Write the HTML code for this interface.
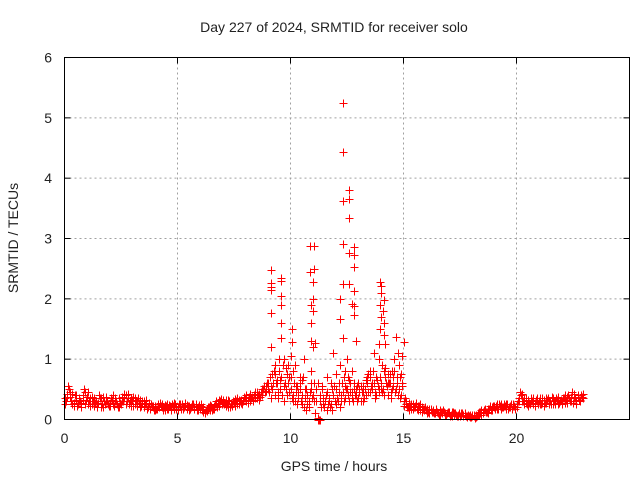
<!DOCTYPE html>
<html><head><meta charset="utf-8"><style>
body{margin:0;background:#fff}
svg text{font-family:"Liberation Sans",sans-serif;font-size:14px;fill:#222}
</style></head><body>
<svg id="chart" width="640" height="480" xmlns="http://www.w3.org/2000/svg">
<rect width="640" height="480" fill="#fff"/>
<text x="334" y="32" text-anchor="middle">Day 227 of 2024, SRMTID for receiver solo</text>
<text x="334" y="471" text-anchor="middle">GPS time / hours</text>
<text x="18" y="238" text-anchor="middle" transform="rotate(-90 18 238)">SRMTID / TECUs</text>
<g id="grid"></g>
<g id="marks"></g>
<rect x="64.5" y="57.5" width="565" height="362" fill="none" stroke="#000"/>
<g id="ticks"></g>
</svg>
<script>
const xTicks=[0,5,10,15,20];
const yTicks=[0,1,2,3,4,5,6];
const baseA=[0.35,0.42,0.5,0.3,0.28,0.33,0.25,0.3,0.4,0.45,
0.38,0.3,0.25,0.22,0.3,0.28,0.35,0.2,0.25,0.3,
0.28,0.32,0.22,0.3,0.35,0.25,0.3,0.4,0.35,0.3,
0.32,0.25,0.3,0.28,0.22,0.3,0.26,0.2,0.18,0.2,
0.22,0.18,0.2,0.25,0.2,0.22,0.18,0.2,0.23,0.25,
0.2,0.22,0.25,0.2,0.18,0.22,0.2,0.25,0.22,0.2,
0.18,0.15,0.12,0.18,0.2,0.22,0.18,0.25,0.28,0.3,
0.32,0.28,0.25,0.3,0.22,0.28,0.3,0.25,0.32,0.3,
0.35,0.32,0.3,0.38,0.4,0.35,0.42,0.45,0.5,0.55,
0.6,0.7,0.5,0.4,0.6,0.8,0.7,0.3,0.5,0.9,
0.5,0.4,0.3,0.25,0.6,0.4,0.2,0.15,0.3,0.5,
0.4,0.1,0.02,0.3,0.5,0.2,0.15,0.3,0.25,0.4,
0.5,0.3,0.2,0.6,0.8,0.5,0.3,0.45,0.6,0.4,
0.35,0.3,0.45,0.5,0.6,0.7,0.5,0.6,0.4,0.5,
0.6,0.5,0.7,0.4,0.6,0.5,0.8,0.6,0.5,0.4,
0.3,0.25,0.2,0.22,0.25,0.2,0.18,0.22,0.2,0.15,
0.15,0.12,0.18,0.15,0.1,0.12,0.15,0.1,0.12,0.08,
0.1,0.08,0.12,0.1,0.08,0.06,0.1,0.08,0.05,0.06,
0.04,0.05,0.08,0.1,0.12,0.1,0.15,0.12,0.18,0.2,
0.2,0.22,0.18,0.25,0.2,0.22,0.25,0.2,0.18,0.22,
0.25,0.35,0.4,0.3,0.28,0.32,0.25,0.3,0.28,0.3,
0.3,0.25,0.32,0.28,0.35,0.3,0.25,0.3,0.32,0.28,
0.3,0.35,0.32,0.4,0.3,0.28,0.35,0.4,0.32,0.38];
const baseB=[0.3,0.55,0.38,0.25,0.4,0.22,0.35,0.28,0.5,0.32,
0.25,0.35,0.3,0.28,0.2,0.35,0.25,0.3,0.38,0.22,
0.35,0.25,0.3,0.2,0.28,0.38,0.42,0.3,0.25,0.35,
0.22,0.3,0.35,0.2,0.28,0.25,0.18,0.25,0.22,0.15,
0.18,0.25,0.22,0.16,0.24,0.18,0.22,0.25,0.18,0.2,
0.25,0.18,0.2,0.24,0.22,0.18,0.25,0.2,0.16,0.24,
0.22,0.12,0.15,0.2,0.16,0.18,0.25,0.2,0.32,0.25,
0.25,0.32,0.2,0.25,0.3,0.22,0.35,0.3,0.25,0.35,
0.3,0.38,0.35,0.32,0.45,0.4,0.38,0.5,0.45,0.6,
0.45,0.55,0.8,0.6,0.35,0.5,0.9,0.6,0.4,0.7,
0.35,0.6,0.45,0.35,0.3,0.7,0.35,0.25,0.45,0.35,
0.6,0.3,0.0,0.2,0.35,0.4,0.25,0.2,0.5,0.3,
0.35,0.45,0.4,0.3,0.5,0.7,0.45,0.3,0.4,0.55,
0.5,0.45,0.35,0.65,0.45,0.55,0.8,0.45,0.55,0.7,
0.45,0.8,0.55,0.6,0.45,0.7,0.5,0.4,0.7,0.55,
0.35,0.2,0.28,0.18,0.2,0.28,0.22,0.15,0.18,0.2,
0.1,0.18,0.12,0.1,0.15,0.08,0.12,0.15,0.08,0.12,
0.06,0.12,0.08,0.05,0.1,0.08,0.05,0.06,0.08,0.04,
0.08,0.03,0.06,0.12,0.08,0.15,0.12,0.18,0.15,0.22,
0.18,0.25,0.22,0.2,0.25,0.18,0.2,0.25,0.22,0.2,
0.3,0.45,0.3,0.35,0.25,0.28,0.35,0.25,0.32,0.25,
0.25,0.35,0.28,0.32,0.25,0.38,0.3,0.35,0.25,0.32,
0.35,0.28,0.38,0.3,0.45,0.35,0.3,0.32,0.4,0.35];
const baseC=[0.25,0.38,0.45,0.42,0.22,0.4,0.3,0.2,0.32,0.25,
0.45,0.22,0.38,0.35,0.25,0.4,0.2,0.38,0.3,0.25,
0.22,0.4,0.35,0.25,0.2,0.3,0.35,0.25,0.42,0.22,
0.38,0.35,0.22,0.32,0.3,0.2,0.32,0.28,0.25,0.22,
0.15,0.22,0.28,0.2,0.16,0.25,0.24,0.16,0.28,0.18,
0.16,0.26,0.18,0.28,0.24,0.15,0.22,0.18,0.26,0.16,
0.25,0.2,0.1,0.14,0.24,0.15,0.22,0.3,0.22,0.34,
0.28,0.22,0.32,0.2,0.26,0.34,0.25,0.32,0.28,0.38,
0.4,0.28,0.42,0.3,0.35,0.45,0.32,0.4,0.55,0.48,
0.5,0.35,0.6,0.75,0.45,0.65,0.4,0.55,0.75,0.45,
0.7,0.3,0.55,0.45,0.5,0.25,0.5,0.4,0.2,0.6,
0.3,0.5,0.0,0.4,0.25,0.3,0.45,0.35,0.15,0.55,
0.25,0.6,0.3,0.45,0.35,0.4,0.6,0.35,0.5,0.3,
0.45,0.55,0.3,0.4,0.75,0.45,0.6,0.35,0.65,0.45,
0.5,0.4,0.6,0.75,0.35,0.55,0.45,0.7,0.35,0.6,
0.22,0.3,0.15,0.25,0.18,0.22,0.15,0.25,0.12,0.18,
0.18,0.1,0.15,0.12,0.18,0.1,0.08,0.12,0.1,0.1,
0.12,0.05,0.1,0.08,0.06,0.1,0.08,0.1,0.04,0.08,
0.06,0.08,0.04,0.08,0.15,0.12,0.18,0.1,0.22,0.15,
0.22,0.18,0.25,0.18,0.22,0.25,0.18,0.22,0.25,0.18,
0.2,0.3,0.42,0.25,0.35,0.22,0.3,0.35,0.22,0.35,
0.35,0.28,0.22,0.35,0.3,0.25,0.35,0.25,0.38,0.3,
0.25,0.4,0.28,0.35,0.38,0.42,0.25,0.38,0.3,0.42];
const spikeT=[9.14,9.15,9.15,9.15,9.15,9.14,9.57,9.6,9.58,9.57,9.6,9.6,10.05,10.05,10.05,
10.86,11.05,10.86,11.05,11.0,11.0,10.9,11.0,10.9,10.92,11.1,
12.33,12.33,12.6,12.6,12.33,12.6,12.33,12.57,12.8,12.8,12.8,12.33,12.6,12.8,12.7,12.8,12.2,12.2,12.33,12.8,12.9,
13.95,14.0,14.0,14.15,13.95,14.1,14.0,14.15,13.95,14.15,13.9,14.2,
14.69,15.03,14.75,14.95,14.8,
9.3,9.5,9.8,10.2,10.4,10.6,10.9,11.2,11.6,11.9,12.2,12.5,12.7,13.0,13.4,13.7,13.9,14.2,14.4,14.6,14.8,10.0,9.6,11.0,12.35,
9.2,9.4,9.7,9.9,10.1,10.3,10.5,10.7,11.4,11.8,12.0,12.4,12.6,12.9,13.2,13.5,13.8,14.05,14.3,14.5,14.7,14.9,
11.2,11.25,11.3];
const spikeV=[2.47,2.26,2.2,2.15,1.76,1.2,2.35,2.3,2.05,1.9,1.6,1.35,1.5,1.5,1.28,
2.87,2.88,2.45,2.5,2.28,2.0,1.9,1.8,1.6,1.3,1.27,
5.24,4.43,3.8,3.66,3.62,3.34,2.91,2.76,2.86,2.72,2.52,2.25,2.24,2.13,1.92,1.88,1.99,1.66,1.35,1.73,1.3,
2.28,2.22,2.1,1.98,1.9,1.8,1.7,1.6,1.5,1.4,1.25,1.25,
1.36,1.28,1.1,1.05,0.9,
0.9,1.0,0.85,0.9,0.7,1.0,0.8,0.6,0.7,1.1,0.9,1.0,0.8,0.6,0.7,1.1,1.0,0.85,0.75,1.0,0.9,1.05,0.7,1.2,0.7,
0.75,0.65,1.0,0.6,0.8,0.55,0.65,0.5,0.55,0.6,0.75,0.55,0.65,0.5,0.55,0.8,0.7,0.9,0.6,0.8,0.7,0.75,
0,0,0];
const X=t=>64.5+t*22.6;
const Y=v=>419.5-v*60.33;
const NS='http://www.w3.org/2000/svg';
const grid=document.getElementById('grid'),ticks=document.getElementById('ticks'),marks=document.getElementById('marks');
function mk(tag,attrs,parent){const e=document.createElementNS(NS,tag);for(const k in attrs)e.setAttribute(k,attrs[k]);parent.appendChild(e);return e;}
xTicks.forEach(t=>{
  if(t>0){const g=mk('line',{x1:X(t),x2:X(t),y1:57.5,y2:419.5,stroke:'#a0a0a0','stroke-dasharray':'2,3'},grid);
  
  }
  const a=mk('line',{x1:X(t),x2:X(t),y1:419.5,y2:413.5,stroke:'#000'},ticks);
  
  
  const b=mk('line',{x1:X(t),x2:X(t),y1:57.5,y2:63.5,stroke:'#000'},ticks);
  
  
  const l=mk('text',{x:X(t),y:443,'text-anchor':'middle'},ticks);l.textContent=t;
  
  
});
yTicks.forEach(v=>{
  if(v>0&&v<6){const g=mk('line',{x1:64.5,x2:629.5,y1:Y(v),y2:Y(v),stroke:'#a0a0a0','stroke-dasharray':'2,3'},grid);
  
  }
  const a=mk('line',{x1:64.5,x2:70.5,y1:Y(v),y2:Y(v),stroke:'#000'},ticks);
  
  
  const b=mk('line',{x1:623.5,x2:629.5,y1:Y(v),y2:Y(v),stroke:'#000'},ticks);
  
  
  const l=mk('text',{x:52,y:Y(v)+5,'text-anchor':'end'},ticks);l.textContent=v;
  
  
});
let d='';
function plus(t,v){const x=Math.round(X(t))+0.5,y=Math.round(Y(v))+0.5;d+=`M${x-4} ${y}h8M${x} ${y-4}v8`;}
baseA.forEach((v,i)=>plus(i*0.1,v));
baseB.forEach((v,i)=>plus(i*0.1+0.05,v));
baseC.forEach((v,i)=>plus(i*0.1+0.025,v));
spikeT.forEach((t,i)=>plus(t,spikeV[i]));
const p=mk('path',{d:d,stroke:'#ff0000','stroke-width':1.3,fill:'none','shape-rendering':'crispEdges'},marks);


</script>
</body></html>
